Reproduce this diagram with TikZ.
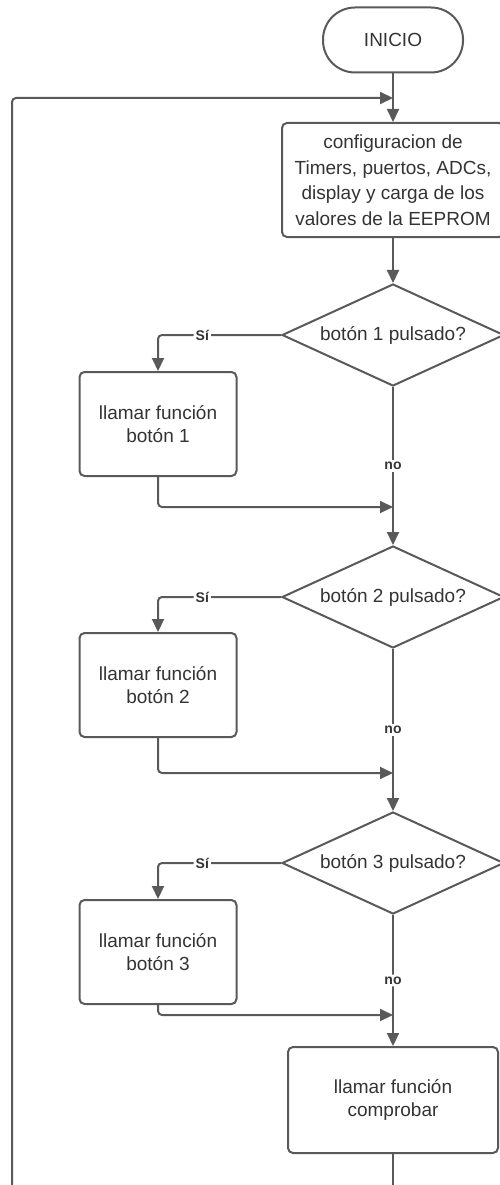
\documentclass[tikz,border=0pt]{standalone}
\usepackage{fontspec}
\setmainfont{Liberation Sans}
\usepackage{tikz}
\usetikzlibrary{shapes, arrows.meta, positioning}
\usepackage{xcolor}
\definecolor{edge}{HTML}{595959}
\definecolor{ink}{HTML}{333333}
\tikzstyle{terminal} = [
    rectangle,
    rounded corners=32pt,
    draw=edge,
    line width=2pt,
    minimum width=140pt,
    minimum height=65pt,
    text=ink,
    font=\fontsize{19pt}{23pt}\selectfont,
    align=center
]
\tikzstyle{process} = [
    rectangle,
    rounded corners=5pt,
    draw=edge,
    line width=2pt,
    minimum width=157pt,
    minimum height=104pt,
    text=ink,
    font=\fontsize{19pt}{23pt}\selectfont,
    align=center
]
\tikzstyle{decision} = [
    diamond,
    aspect=2.2,
    draw=edge,
    line width=2pt,
    inner sep=0pt,
    minimum width=222pt,
    minimum height=102pt,
    text=ink,
    font=\fontsize{19pt}{23pt}\selectfont,
    align=center
]
\tikzstyle{flow} = [
    draw=edge,
    line width=2pt,
    rounded corners=4pt,
    -{Triangle[length=13pt, width=12pt]}
]
\tikzstyle{wire} = [
    draw=edge,
    line width=2pt
]
\tikzstyle{answer} = [
    fill=white,
    text=ink,
    inner sep=2pt,
    font=\fontsize{14pt}{16pt}\selectfont\bfseries
]

\begin{document}
\begin{tikzpicture}[node distance=140pt, x=1pt, y=1pt]
            \useasboundingbox (0,0) rectangle (499,-1185);
            \node[terminal] (start) at (393,-40) {INICIO};
            \node[process, minimum width=222pt, minimum height=114pt] (setup) [below of=start] {configuracion de\\[2.5pt]Timers, puertos, ADCs,\\[2.5pt]display y carga de los\\[2.5pt]valores de la EEPROM};
            \node[decision] (check1) [below of=setup, node distance=155pt] {botón 1 pulsado?};
            \node[process] (call1) [left of=check1, node distance=235pt, yshift=-89pt] {llamar función\\botón 1};
            \node[decision] (check2) [below of=check1, node distance=262pt] {botón 2 pulsado?};
            \node[process] (call2) [left of=check2, node distance=235pt, yshift=-88pt] {llamar función\\botón 2};
            \node[decision] (check3) [below of=check2, node distance=266pt] {botón 3 pulsado?};
            \node[process] (call3) [left of=check3, node distance=235pt, yshift=-89pt] {llamar función\\botón 3};
            \node[process, minimum width=210pt, minimum height=106pt] (verify) [below of=check3, node distance=237pt] {llamar función\\comprobar};

            \coordinate (back) at (393,-98);
            \coordinate (join1) at (393,-507);
            \coordinate (join2) at (393,-773);
            \coordinate (join3) at (393,-1015);
            \coordinate (leftend) at (12,-1185);
            \coordinate (rightend) at (verify |- leftend);

            \draw[flow] (start) -- (setup);
            \draw[flow] (setup) -- (check1);
            \draw[flow] (check1.west) -| node[answer, pos=0.32] {Sí} (call1.north);
            \draw[flow] (check1) -- node[answer] {no} (check2);
            \draw[flow] (call1.south) |- (join1);
            \draw[flow] (check2.west) -| node[answer, pos=0.32] {Sí} (call2.north);
            \draw[flow] (check2) -- node[answer] {no} (check3);
            \draw[flow] (call2.south) |- (join2);
            \draw[flow] (check3.west) -| node[answer, pos=0.32] {Sí} (call3.north);
            \draw[flow] (check3) -- node[answer] {no} (verify);
            \draw[flow] (call3.south) |- (join3);
            \draw[wire] (verify) -- (rightend);
            \draw[flow] (leftend) |- (back);
        \end{tikzpicture}
\end{document}
